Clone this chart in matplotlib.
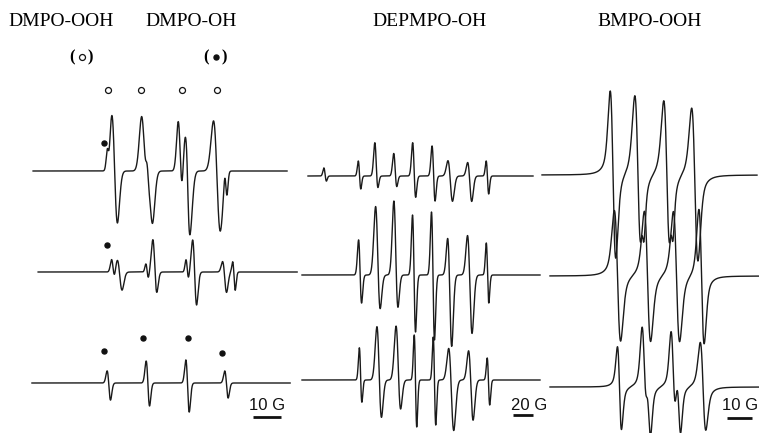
import numpy as np
import matplotlib
matplotlib.use("Agg")
import matplotlib.pyplot as plt

# ---- data (field in G, heights in a.u.) ----
# each line: centre, peak-to-peak width, height of the positive lobe, depth of the negative lobe

# DMPO column (10 G scale)
dmpo_top_pos = [27.9, 30.2, 40.7, 42.9, 53.6, 56.3, 66.8, 42.1, 56.4, 70.0]
dmpo_top_w = [0.9, 2.0, 2.0, 2.0, 1.5, 2.0, 2.4, 0.9, 0.9, 0.9]
dmpo_top_pk = [14, 56, 52, 30, 48, 40, 50, 8, 8, 8]
dmpo_top_tr = [6, 52, 30, 50, 30, 58, 60, 8, 8, 20]

dmpo_mid_pos = [29.6, 32.1, 41.8, 44.5, 56.1, 58.8, 69.6, 72.9]
dmpo_mid_w = [1.1, 1.7, 0.9, 1.4, 0.9, 1.4, 1.4, 0.9]
dmpo_mid_pk = [12, 12, 8, 32, 12, 32, 10, 10]
dmpo_mid_tr = [6, 18, 6, 20, 6, 33, 20, 18]

dmpo_bot_pos = [28.2, 42.1, 56.3, 70.2]
dmpo_bot_w = [1.2, 1.2, 1.2, 1.2]
dmpo_bot_pk = [12, 22, 23, 12]
dmpo_bot_tr = [17, 23, 29, 15]

# DEPMPO column (20 G scale)
depmpo_top_pos = [25.0, 59.5, 76.0, 95.0, 114.0, 133.5, 150.5, 170.0, 187.5]
depmpo_top_w = [2.5, 2.5, 3, 3, 3, 3, 4.5, 4, 2.5]
depmpo_top_pk = [8, 15, 32, 22, 33, 30, 15, 13, 15]
depmpo_top_tr = [5, 13, 10, 10, 21, 25, 25, 25, 18]

depmpo_mid_pos = [60.0, 77.5, 95.5, 114.0, 133.0, 150.0, 170.0, 187.5]
depmpo_mid_w = [3, 4.5, 4, 3, 3, 4, 4.5, 2.5]
depmpo_mid_pk = [35, 67, 72, 60, 63, 35, 39, 32]
depmpo_mid_tr = [28, 32, 30, 57, 65, 70, 58, 28]

depmpo_bot_pos = [60.5, 79.0, 98.0, 115.5, 134.5, 151.5, 171.0, 188.5]
depmpo_bot_w = [2.5, 4.5, 4.5, 2.5, 2.5, 5, 4.5, 2.5]
depmpo_bot_pk = [32, 53, 53, 45, 43, 31, 29, 22]
depmpo_bot_tr = [22, 37, 28, 47, 45, 50, 40, 25]

# BMPO column (10 G scale)
bmpo_top_pos = [29.2, 39.2, 50.8, 62.0, 41.2, 52.8]
bmpo_top_w = [2.2, 2.5, 2.5, 2.5, 1.2, 1.2]
bmpo_top_pk = [83, 79, 74, 68, 20, 20]
bmpo_top_tr = [85, 85, 85, 85, 20, 20]

bmpo_mid_pos = [31.0, 43.0, 54.6, 64.6]
bmpo_mid_w = [2.5, 2.5, 2.5, 2.1]
bmpo_mid_pk = [65, 65, 65, 68]
bmpo_mid_tr = [66, 66, 66, 67]

bmpo_bot_pos = [31.8, 41.6, 43.6, 53.2, 55.6, 65.2]
bmpo_bot_w = [1.6, 1.8, 1.6, 1.8, 1.6, 2.2]
bmpo_bot_pk = [40, 55, 20, 52, 20, 45]
bmpo_bot_tr = [43, 30, 40, 30, 40, 43]

titles = ["DMPO-OOH", "DMPO-OH", "DEPMPO-OH", "BMPO-OOH"]
scale_labels = ["10 G", "20 G", "10 G"]
scale_lengths = [10, 20, 10]


def spectrum(x, pos, w, pk, tr, lorentz_frac):
    # first-derivative lines, Gaussian/Lorentzian mix
    y = np.zeros_like(x)
    for c, ww, p, t in zip(pos, w, pk, tr):
        ug = (x - c) / (ww / 2)
        gauss = -ug * np.exp(-ug ** 2 / 2) / 0.6065
        ul = (x - c) / (np.sqrt(3) / 2 * ww)
        lor = -ul / (1 + ul ** 2) ** 2 / 0.32476
        deriv = (1 - lorentz_frac) * gauss + lorentz_frac * lor
        absorp = np.exp(-ug ** 2 / 2)
        y += (p + t) / 2 * deriv + (p - t) / 2 / 0.6065 * absorp
    return y


W, H = 759, 433
fig = plt.figure(figsize=(W / 100, H / 100), dpi=100)

# column axes: pixel span on the figure and G range
cols = [
    dict(px=(30, 300), xmax=270 / 2.8),
    dict(px=(300, 545), xmax=245.0),
    dict(px=(540, 759), xmax=219 / 2.5),
]
axes = []
for c in cols:
    ax = fig.add_axes([c["px"][0] / W, 0, (c["px"][1] - c["px"][0]) / W, 1])
    ax.set_xlim(0, c["xmax"])
    ax.set_ylim(0, H)
    ax.axis("off")
    axes.append(ax)

traces = [
    (0, (1.1, 91.8), 262, dmpo_top_pos, dmpo_top_w, dmpo_top_pk, dmpo_top_tr, 0.0),
    (0, (2.9, 95.4), 161, dmpo_mid_pos, dmpo_mid_w, dmpo_mid_pk, dmpo_mid_tr, 0.0),
    (0, (0.7, 92.9), 50, dmpo_bot_pos, dmpo_bot_w, dmpo_bot_pk, dmpo_bot_tr, 0.0),
    (1, (8, 233), 257, depmpo_top_pos, depmpo_top_w, depmpo_top_pk, depmpo_top_tr, 0.0),
    (1, (2, 240), 158, depmpo_mid_pos, depmpo_mid_w, depmpo_mid_pk, depmpo_mid_tr, 0.0),
    (1, (2, 240), 53, depmpo_bot_pos, depmpo_bot_w, depmpo_bot_pk, depmpo_bot_tr, 0.0),
    (2, (0.8, 86.8), 258, bmpo_top_pos, bmpo_top_w, bmpo_top_pk, bmpo_top_tr, 0.5),
    (2, (4, 87.6), 157, bmpo_mid_pos, bmpo_mid_w, bmpo_mid_pk, bmpo_mid_tr, 0.5),
    (2, (4, 87.6), 46, bmpo_bot_pos, bmpo_bot_w, bmpo_bot_pk, bmpo_bot_tr, 0.5),
]
for col, (x0, x1), base, pos, w, pk, tr, lf in traces:
    x = np.linspace(x0, x1, 3000)
    axes[col].plot(x, base + spectrum(x, pos, w, pk, tr, lf), color="#1a1a1a", lw=1.0)

# markers over the DMPO lines and in the legend brackets
ax = axes[0]
ax.plot([27.9, 39.6, 54.3, 66.8, 18.6], [343] * 4 + [376], "o", ms=4.3,
        mfc="white", mec="#111111", mew=0.9)
ax.plot([26.4, 27.5, 26.4, 40.4, 56.4, 68.6, 66.4], [290, 188, 82, 95, 95, 80, 376], "o",
        ms=3.6, color="#111111")

# scale bars
bars = [(0, 79.6, 16, 84.6, "center"), (1, 213, 18, 211, "left"), (2, 74.8, 15, 80, "center")]
for (col, xb, yb, xt, ha), lab, L in zip(bars, scale_labels, scale_lengths):
    axes[col].plot([xb, xb + L], [yb, yb], color="#111111", lw=2.0, solid_capstyle="butt")
    axes[col].text(xt, 28, lab, ha=ha, va="center", fontsize=12,
                   family="Liberation Sans", color="#111111")

# titles
serif = ["Liberation Serif", "DejaVu Sans"]
for t, xc in zip(titles, [61, 191, 430, 650]):
    fig.text(xc / W, 1 - 22 / H, t, ha="center", va="center", fontsize=14, family=serif)
for xc in [82, 216]:
    fig.text(xc / W, 1 - 57 / H, "(   )", ha="center", va="center", fontsize=12,
             family=serif, fontweight="bold")

fig.savefig("out.png", dpi=100)
